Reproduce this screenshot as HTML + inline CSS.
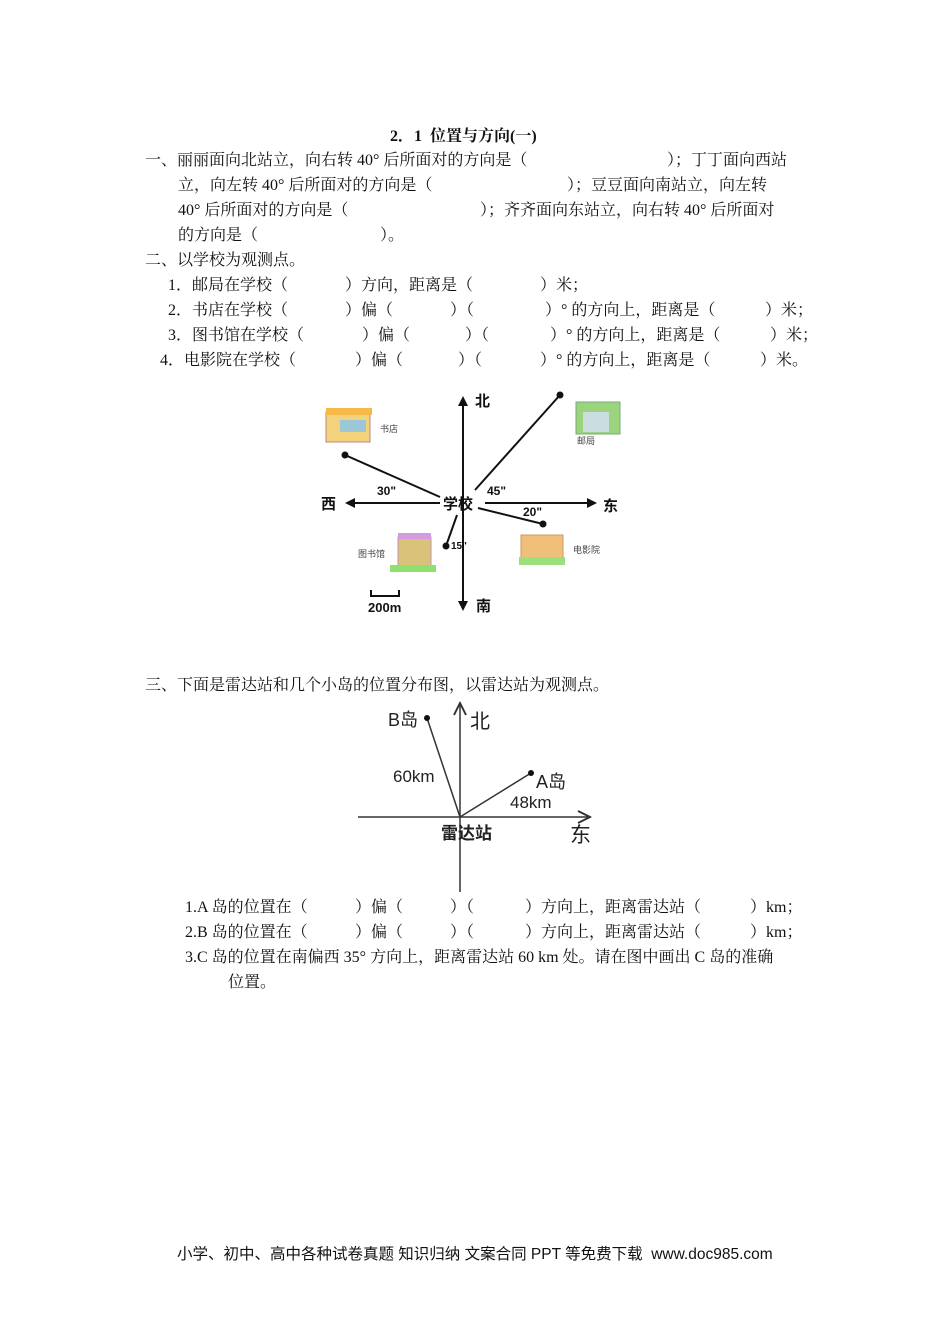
<!DOCTYPE html>
<html><head><meta charset="utf-8">
<style>
html,body{margin:0;padding:0;background:#fff;}
body{width:950px;height:1344px;position:relative;overflow:hidden;font-family:"Liberation Serif","Noto Serif CJK SC",serif;color:#111;}
.t{position:absolute;font-size:16px;line-height:20px;white-space:pre;}
svg{position:absolute;left:0;top:0;}
</style></head><body>
<div class="t" style="left:390px;top:127px;font-weight:bold;">2．1  位置与方向(一)</div>

<div class="t" style="left:145px;top:151px;">一、丽丽面向北站立，向右转 40° 后所面对的方向是（</div>
<div class="t" style="left:667px;top:151px;">）；丁丁面向西站</div>
<div class="t" style="left:178px;top:176px;">立，向左转 40° 后所面对的方向是（</div>
<div class="t" style="left:567px;top:176px;">）；豆豆面向南站立，向左转</div>
<div class="t" style="left:178px;top:201px;">40° 后所面对的方向是（</div>
<div class="t" style="left:480px;top:201px;">）；齐齐面向东站立，向右转 40° 后所面对</div>
<div class="t" style="left:178px;top:226px;">的方向是（</div>
<div class="t" style="left:380px;top:226px;">）。</div>
<div class="t" style="left:145px;top:251px;">二、以学校为观测点。</div>

<div class="t" style="left:168px;top:276px;">1．邮局在学校（</div>
<div class="t" style="left:345px;top:276px;">）方向，距离是（</div>
<div class="t" style="left:540px;top:276px;">）米；</div>

<div class="t" style="left:168px;top:301px;">2．书店在学校（</div>
<div class="t" style="left:345px;top:301px;">）偏（</div>
<div class="t" style="left:450px;top:301px;">）（</div>
<div class="t" style="left:545px;top:301px;">）° 的方向上，距离是（</div>
<div class="t" style="left:765px;top:301px;">）米；</div>

<div class="t" style="left:168px;top:326px;">3．图书馆在学校（</div>
<div class="t" style="left:362px;top:326px;">）偏（</div>
<div class="t" style="left:465px;top:326px;">）（</div>
<div class="t" style="left:550px;top:326px;">）° 的方向上，距离是（</div>
<div class="t" style="left:770px;top:326px;">）米；</div>

<div class="t" style="left:160px;top:351px;">4．电影院在学校（</div>
<div class="t" style="left:355px;top:351px;">）偏（</div>
<div class="t" style="left:458px;top:351px;">）（</div>
<div class="t" style="left:540px;top:351px;">）° 的方向上，距离是（</div>
<div class="t" style="left:760px;top:351px;">）米。</div>

<div class="t" style="left:145px;top:676px;">三、下面是雷达站和几个小岛的位置分布图，以雷达站为观测点。</div>

<div class="t" style="left:185px;top:898px;">1.A 岛的位置在（</div>
<div class="t" style="left:355px;top:898px;">）偏（</div>
<div class="t" style="left:450px;top:898px;">）（</div>
<div class="t" style="left:525px;top:898px;">）方向上，距离雷达站（</div>
<div class="t" style="left:750px;top:898px;">）km；</div>
<div class="t" style="left:185px;top:923px;">2.B 岛的位置在（</div>
<div class="t" style="left:355px;top:923px;">）偏（</div>
<div class="t" style="left:450px;top:923px;">）（</div>
<div class="t" style="left:525px;top:923px;">）方向上，距离雷达站（</div>
<div class="t" style="left:750px;top:923px;">）km；</div>
<div class="t" style="left:185px;top:948px;">3.C 岛的位置在南偏西 35° 方向上，距离雷达站 60 km 处。请在图中画出 C 岛的准确</div>
<div class="t" style="left:228px;top:973px;">位置。</div>

<div class="t" style="left:177px;top:1245px;font-family:'Liberation Sans','Noto Sans CJK SC',sans-serif;font-size:15.5px;">小学、初中、高中各种试卷真题 知识归纳 文案合同 PPT 等免费下载  www.doc985.com</div>

<svg width="950" height="1344" viewBox="0 0 950 1344">
 <defs>
  <marker id="ah" markerWidth="5" markerHeight="5" refX="4" refY="2.5" orient="auto"><path d="M0,0 L5,2.5 L0,5 Z" fill="#111"/></marker>
  <marker id="ao" markerWidth="10" markerHeight="10" refX="9" refY="5" orient="auto"><path d="M1,1 L9,5 L1,9" fill="none" stroke="#333" stroke-width="1.3"/></marker>
 </defs>
 <g stroke="#111" stroke-width="2" fill="none">
  <line x1="463" y1="503" x2="463" y2="398" marker-end="url(#ah)"/>
  <line x1="463" y1="503" x2="463" y2="609" marker-end="url(#ah)"/>
  <line x1="440" y1="503" x2="347" y2="503" marker-end="url(#ah)"/>
  <line x1="485" y1="503" x2="595" y2="503" marker-end="url(#ah)"/>
  <line x1="475" y1="490" x2="560" y2="395"/>
  <line x1="440" y1="497" x2="345" y2="455"/>
  <line x1="478" y1="508" x2="543" y2="524"/>
  <line x1="457" y1="515" x2="446" y2="546"/>
  <path d="M371,590 v6 h28 v-6" stroke-width="2"/>
 </g>
 <g fill="#111">
  <circle cx="560" cy="395" r="3.5"/><circle cx="345" cy="455" r="3.5"/>
  <circle cx="543" cy="524" r="3.5"/><circle cx="446" cy="546" r="3.5"/>
 </g>
 <g font-family="Liberation Sans,Noto Sans CJK SC,sans-serif" font-weight="bold" fill="#111">
  <text x="475" y="406" font-size="15">北</text>
  <text x="476" y="611" font-size="15">南</text>
  <text x="321" y="509" font-size="15">西</text>
  <text x="603" y="511" font-size="15">东</text>
  <text x="443" y="509" font-size="15">学校</text>
  <text x="377" y="495" font-size="12">30"</text>
  <text x="487" y="495" font-size="12">45"</text>
  <text x="523" y="516" font-size="12">20"</text>
  <text x="451" y="549" font-size="10">15"</text>
  <text x="368" y="612" font-size="13">200m</text>
 </g>
 <g font-family="Liberation Sans,Noto Sans CJK SC,sans-serif" font-size="9" fill="#444">
  <text x="380" y="432">书店</text><text x="577" y="444">邮局</text>
  <text x="358" y="557">图书馆</text><text x="573" y="553">电影院</text>
 </g>
 <rect x="326" y="412" width="44" height="30" fill="#f2d27a" stroke="#b88" />
 <rect x="326" y="408" width="46" height="7" fill="#f5b94a"/>
 <rect x="340" y="420" width="26" height="12" fill="#9cc7d8"/>
 <rect x="576" y="402" width="44" height="32" fill="#9bd47c" stroke="#7a7"/>
 <rect x="583" y="412" width="26" height="20" fill="#c9dde0"/>
 <rect x="398" y="537" width="33" height="30" fill="#d9c27a" stroke="#b9a"/>
 <rect x="398" y="533" width="33" height="6" fill="#d49be0"/>
 <rect x="390" y="565" width="46" height="7" fill="#8fe06c"/>
 <rect x="521" y="535" width="42" height="24" fill="#f0c07a" stroke="#c96"/>
 <rect x="519" y="557" width="46" height="8" fill="#9be07c"/>

 <g stroke="#333" stroke-width="1.5" fill="none">
  <line x1="460" y1="892" x2="460" y2="703" marker-end="url(#ao)"/>
  <line x1="358" y1="817" x2="590" y2="817" marker-end="url(#ao)"/>
  <line x1="460" y1="817" x2="427" y2="718"/>
  <line x1="460" y1="817" x2="531" y2="773"/>
 </g>
 <circle cx="427" cy="718" r="3" fill="#111"/><circle cx="531" cy="773" r="3" fill="#111"/>
 <g font-family="Liberation Sans,Noto Sans CJK SC,sans-serif" fill="#222">
  <text x="388" y="726" font-size="18">B岛</text>
  <text x="470" y="728" font-size="20">北</text>
  <text x="393" y="782" font-size="17">60km</text>
  <text x="536" y="788" font-size="18">A岛</text>
  <text x="510" y="808" font-size="17">48km</text>
  <text x="441" y="839" font-size="17" font-weight="bold">雷达站</text>
  <text x="570" y="842" font-size="21">东</text>
 </g>
</svg>
</body></html>
